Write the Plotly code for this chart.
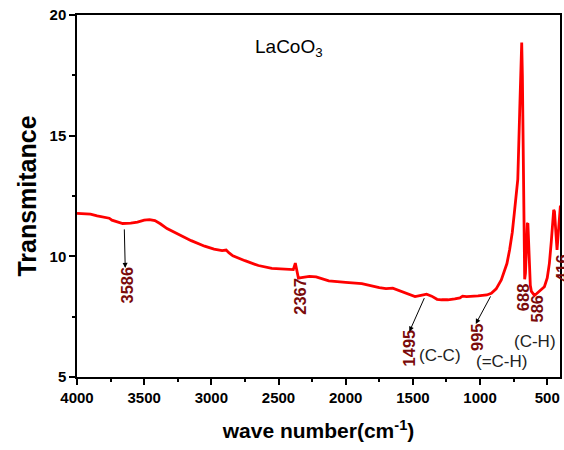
import plotly.graph_objects as go

wavenumber = [4000, 3950, 3900, 3850, 3800, 3760, 3740, 3700, 3660, 3600, 3550, 3500, 3460, 3420,
              3380, 3330, 3250, 3150, 3050, 2980, 2920, 2890, 2870, 2840, 2750, 2650, 2550, 2450,
              2390, 2375, 2362, 2352, 2330, 2270, 2220, 2126, 2000, 1880, 1750, 1700, 1650, 1632,
              1580, 1533, 1484, 1440, 1398, 1360, 1320, 1287, 1240, 1188, 1150, 1130, 1100, 1015,
              950, 916, 880, 842, 800, 780, 760, 745, 730, 719, 705, 695, 690, 685, 678, 672, 668,
              662, 655, 648, 644, 640, 634, 626, 618, 605, 595, 580, 560, 540, 521, 500, 484, 470,
              460, 452, 446, 440, 432, 427, 420, 410, 402]
transmittance = [11.78, 11.78, 11.75, 11.68, 11.62, 11.58, 11.5, 11.42, 11.36, 11.38, 11.42, 11.5,
                 11.52, 11.48, 11.35, 11.15, 10.92, 10.65, 10.42, 10.3, 10.24, 10.26, 10.15, 10.02,
                 9.82, 9.62, 9.5, 9.45, 9.45, 9.72, 9.3, 9.1, 9.12, 9.17, 9.15, 8.98, 8.92, 8.87,
                 8.7, 8.66, 8.68, 8.64, 8.55, 8.44, 8.33, 8.38, 8.43, 8.35, 8.22, 8.2, 8.2, 8.24,
                 8.28, 8.35, 8.33, 8.36, 8.4, 8.47, 8.65, 9.02, 9.7, 10.27, 11.0, 11.79, 12.6, 13.2,
                 16.0, 18.5, 18.86, 17.5, 13.0, 10.0, 9.05, 9.3, 10.5, 11.35, 11.37, 10.6, 9.5, 8.8,
                 8.55, 8.42, 8.38, 8.45, 8.55, 8.65, 8.74, 9.1, 9.71, 10.6, 11.5, 11.93, 11.85, 11.3,
                 10.5, 10.27, 10.8, 11.7, 12.1]

x_ticks = [4000, 3500, 3000, 2500, 2000, 1500, 1000, 500]
y_ticks = [5, 10, 15, 20]

peak_labels = ["3586", "2367", "1495", "995", "688", "586"]
peak_label_x = [3630, 2341, 1526, 1022, 678, 576]
peak_label_y = [8.82, 8.36, 6.2, 6.66, 8.32, 7.84]

bond_labels = ["(C-C)", "(=C-H)", "(C-H)"]
bond_x = [1296, 837, 589]
bond_y = [5.91, 5.66, 6.46]

arrow_tail_x = [3648, 1410, 916]
arrow_tail_y = [11.18, 8.33, 8.40]
arrow_head_x = [3641, 1526, 1032]
arrow_head_y = [9.52, 6.88, 7.2]

FONT = "Arial, Liberation Sans, sans-serif"
DARKRED = "#7a0a0a"

fig = go.Figure()
fig.add_trace(go.Scatter(x=wavenumber, y=transmittance, mode="lines",
                         line=dict(color="#ff0000", width=2.8), showlegend=False))

ann = []
for t, x, y in zip(peak_labels, peak_label_x, peak_label_y):
    ann.append(dict(x=x, y=y, xref="x", yref="y", text="<b>%s</b>" % t, showarrow=False,
                    textangle=-90, xanchor="center", yanchor="middle",
                    font=dict(family=FONT, size=16.5, color=DARKRED)))
ann.append(dict(x=1.004, y=9.52, xref="paper", yref="y", text="<b>416</b>", showarrow=False,
                textangle=-90, xanchor="center", yanchor="middle",
                font=dict(family=FONT, size=16.5, color=DARKRED)))
for t, x, y in zip(bond_labels, bond_x, bond_y):
    ann.append(dict(x=x, y=y, xref="x", yref="y", text=t, showarrow=False,
                    xanchor="center", yanchor="middle",
                    font=dict(family=FONT, size=17, color="#222222")))
for tx, ty, hx, hy in zip(arrow_tail_x, arrow_tail_y, arrow_head_x, arrow_head_y):
    ann.append(dict(x=hx, y=hy, ax=tx, ay=ty, xref="x", yref="y", axref="x", ayref="y",
                    text="", showarrow=True, arrowhead=2, arrowsize=1, arrowwidth=1,
                    arrowcolor="#000000", standoff=0, startstandoff=0))
ann.append(dict(x=2422, y=18.65, xref="x", yref="y", text="LaCoO<sub>3</sub>", showarrow=False,
                xanchor="center", yanchor="middle",
                font=dict(family=FONT, size=19, color="#000000")))

fig.update_layout(
    width=564, height=450,
    margin=dict(l=77, r=2, t=15, b=73),
    paper_bgcolor="white", plot_bgcolor="white",
    annotations=ann,
    xaxis=dict(range=[4000, 405], autorange=False, tickmode="array", tickvals=x_ticks,
               ticktext=["<b>%d</b>" % v for v in x_ticks],
               ticks="outside", ticklen=6, tickwidth=1.5, tickcolor="black",
               minor=dict(ticks="outside", ticklen=3, dtick=250, tick0=0, tickwidth=1.5,
                          tickcolor="black"),
               showline=True, linecolor="black", linewidth=1.5, mirror=True,
               showgrid=False, zeroline=False,
               tickfont=dict(family=FONT, size=15, color="black"),
               title=dict(text="<b>wave number(cm<sup>-1</sup>)</b>",
                          font=dict(family=FONT, size=21, color="black"), standoff=19)),
    yaxis=dict(range=[5, 20], autorange=False, tickmode="array", tickvals=y_ticks,
               ticktext=["<b>%d</b>" % v for v in y_ticks],
               ticks="outside", ticklen=6, tickwidth=1.5, tickcolor="black",
               minor=dict(ticks="outside", ticklen=3, dtick=2.5, tick0=0, tickwidth=1.5,
                          tickcolor="black"),
               showline=True, linecolor="black", linewidth=1.5, mirror=True,
               showgrid=False, zeroline=False,
               tickfont=dict(family=FONT, size=15, color="black"),
               title=dict(text="<b>Transmitance</b>",
                          font=dict(family=FONT, size=25, color="black"), standoff=6)),
)

fig.write_html("out.html")
